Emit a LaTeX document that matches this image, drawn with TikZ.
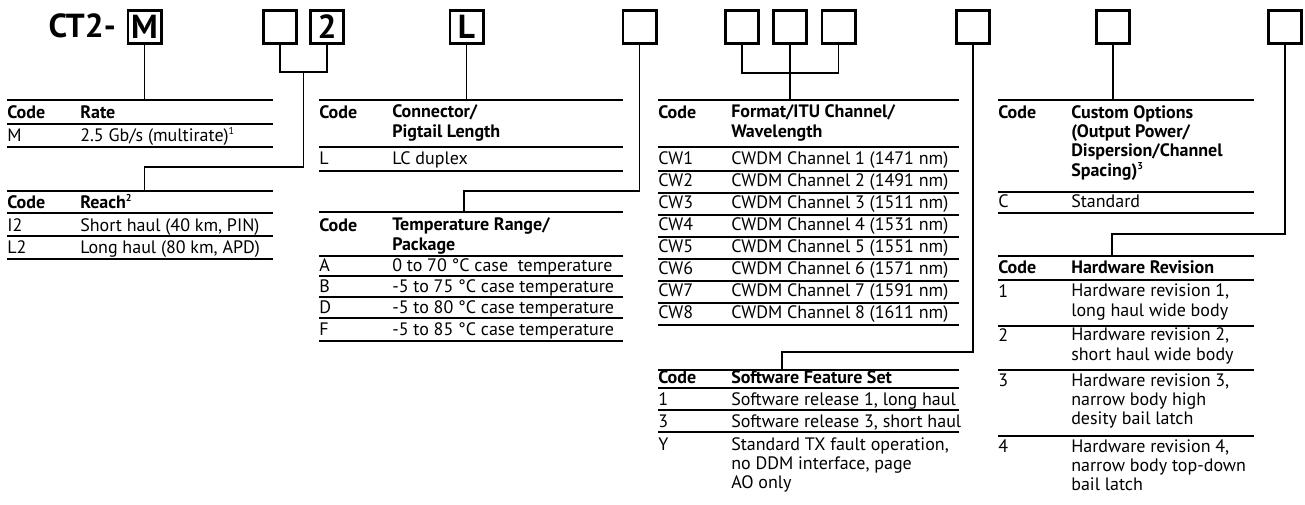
\documentclass[tikz,border=0pt]{standalone}
\usepackage{fontspec}
\setmainfont{PT Sans}
\usetikzlibrary{positioning,calc}

\newcommand{\notemark}[1]{\raisebox{0.75ex}{\fontsize{7.5}{7.5}\selectfont #1}}

\begin{document}
\begin{tikzpicture}[
  x=0.75pt, y=-0.75pt,
  slot/.style={draw, line width=2pt, minimum size=25pt, inner sep=0pt,
               font=\bfseries\fontsize{25}{25}\selectfont},
  link/.style={line width=1pt},
  hrule/.style={line width=1pt},
  cell/.style={anchor=base west, inner sep=0pt, align=left,
               font=\fontsize{13.5}{14.5}\selectfont},
  headcell/.style={cell, font=\bfseries\fontsize{13.5}{14.5}\selectfont}
]
\useasboundingbox (0,0) rectangle (1305,504);

% part number
\node[anchor=base east, inner sep=0pt, font=\bfseries\fontsize{25}{25}\selectfont] (prefix) at (116,37) {CT2-};
\node[slot] (rate) at (144.5,27) {M};
\node[slot] (reachA) at (280,27) {};
\node[slot] (reachB) at (327,27) {2};
\node[slot] (conn) at (466.5,27) {L};
\node[slot] (temp) at (639.5,27) {};
\node[slot] (fmtA) at (742,27) {};
\node[slot] (fmtB) at (790,27) {};
\node[slot] (fmtC) at (838.5,27) {};
\node[slot] (soft) at (973,27) {};
\node[slot] (cust) at (1113,27) {};
\node[slot] (hard) at (1285,27) {};

% table tops
\coordinate (rateTop) at (144.5,100);
\coordinate (reachTop) at (144.5,191);
\coordinate (connTop) at (466.5,100);
\coordinate (tempTop) at (464,212);
\coordinate (fmtTop) at (790,100);
\coordinate (softTop) at (782,370);
\coordinate (custTop) at (1113,100);
\coordinate (hardTop) at (1112,256);
\coordinate (reachFork) at (303.5,72);
\coordinate (fmtFork) at (790,73);

% connectors
\draw[link] (rate) -- (rateTop);
\draw[link] (reachA.south) |- (reachFork) -| (reachB.south);
\draw[link] (reachFork) |- ($(reachTop)+(0,-24)$) -- (reachTop);
\draw[link] (conn) -- (connTop);
\draw[link] (temp.south) |- ($(tempTop)+(0,-21)$) -- (tempTop);
\draw[link] (fmtA.south) |- (fmtFork) -| (fmtC.south);
\draw[link] (fmtB) -- (fmtTop);
\draw[link] (soft.south) |- ($(softTop)+(0,-18)$) -- (softTop);
\draw[link] (cust) -- (custTop);
\draw[link] (hard.south) |- ($(hardTop)+(0,-22)$) -- (hardTop);

% multi-line cells sit on the baseline of their last line

% rate
\foreach \y in {100,124,147} \draw[hrule] (7,\y) -- (273,\y);
\node[headcell] (rateCode) at (7,118) {Code};
\node[headcell] (rateHead) at (80,118) {Rate};
\node[cell] (rateM) at (7,141) {M};
\node[cell] (rateMText) at (80,141) {2.5 Gb/s (multirate)\notemark{1}};

% reach
\foreach \y in {191,213,236,259} \draw[hrule] (7,\y) -- (273,\y);
\node[headcell] (reachCode) at (7,208) {Code};
\node[headcell] (reachHead) at (80,208) {Reach\notemark{2}};
\node[cell] (reachI) at (7,231) {I2};
\node[cell] (reachIText) at (80,231) {Short haul (40 km, PIN)};
\node[cell] (reachL) at (7,253) {L2};
\node[cell] (reachLText) at (80,253) {Long haul (80 km, APD)};

% connector
\foreach \y in {100,147,171} \draw[hrule] (319,\y) -- (623,\y);
\node[headcell] (connCode) at (319,118) {Code};
\node[headcell] (connHead) at (392,137.3) {Connector/\\Pigtail Length};
\node[cell] (connL) at (319,164) {L};
\node[cell] (connLText) at (392,164) {LC duplex};

% temperature
\foreach \y in {212,256,276,297,318,341} \draw[hrule] (319,\y) -- (623,\y);
\node[headcell] (tempCode) at (319,231) {Code};
\node[headcell] (tempHead) at (392,250.3) {Temperature Range/\\Package};
\foreach \c/\t/\y in {A/{0 to 70~°C case\ \ temperature}/271,
                      B/{-5 to 75~°C case temperature}/292,
                      D/{-5 to 80~°C case temperature}/313,
                      F/{-5 to 85~°C case temperature}/335} {
  \node[cell] (temp\c) at (319,\y) {\c};
  \node[cell] (tempText\c) at (392,\y) {\t};
}

% format
\foreach \y in {100,147} \draw[hrule] (658,\y) -- (959,\y);
\node[headcell] (fmtCode) at (658,118) {Code};
\node[headcell] (fmtHead) at (731,137.3) {Format/ITU Channel/\\Wavelength};
\foreach \n/\nm [count=\i from 0] in {1/1471,2/1491,3/1511,4/1531,5/1551,6/1571,7/1591,8/1611} {
  \node[cell] (cw\n) at (658,{164+22*\i}) {CW\n};
  \node[cell] (cwText\n) at (731,{164+22*\i}) {CWDM Channel \n\ (\nm~nm)};
  \draw[hrule] (658,{171+22*\i}) -- (959,{171+22*\i});
}

% software
\foreach \y in {370,388,410,432} \draw[hrule] (658,\y) -- (959,\y);
\node[headcell] (softCode) at (658,383) {Code};
\node[headcell] (softHead) at (731,383) {Software Feature Set};
\node[cell] (soft1) at (658,405) {1};
\node[cell] (softText1) at (731,405) {Software release 1, long haul};
\node[cell] (soft3) at (658,427) {3};
\node[cell] (softText3) at (731,427) {Software release 3, short haul};
\node[cell] (softY) at (658,450) {Y};
\node[cell] (softTextY) at (731,488.7) {Standard TX fault operation,\\no DDM interface, page\\AO only};

% custom
\foreach \y in {100,192,213} \draw[hrule] (998,\y) -- (1254,\y);
\node[headcell] (custCode) at (998,118) {Code};
\node[headcell] (custHead) at (1071,176) {Custom Options\\(Output Power/\\Dispersion/Channel\\Spacing)\notemark{3}};
\node[cell] (custC) at (998,207) {C};
\node[cell] (custCText) at (1071,207) {Standard};

% hardware
\foreach \y in {256,280,326,370,436} \draw[hrule] (998,\y) -- (1254,\y);
\node[headcell] (hardCode) at (998,273) {Code};
\node[headcell] (hardHead) at (1071,273) {Hardware Revision};
\node[cell] (hard1) at (998,297) {1};
\node[cell] (hardText1) at (1071,316.3) {Hardware revision 1,\\long haul wide body};
\node[cell] (hard2) at (998,341) {2};
\node[cell] (hardText2) at (1071,360.3) {Hardware revision 2,\\short haul wide body};
\node[cell] (hard3) at (998,386) {3};
\node[cell] (hardText3) at (1071,424.7) {Hardware revision 3,\\narrow body high\\desity bail latch};
\node[cell] (hard4) at (998,452) {4};
\node[cell] (hardText4) at (1071,490.7) {Hardware revision 4,\\narrow body top-down\\bail latch};

\end{tikzpicture}
\end{document}
